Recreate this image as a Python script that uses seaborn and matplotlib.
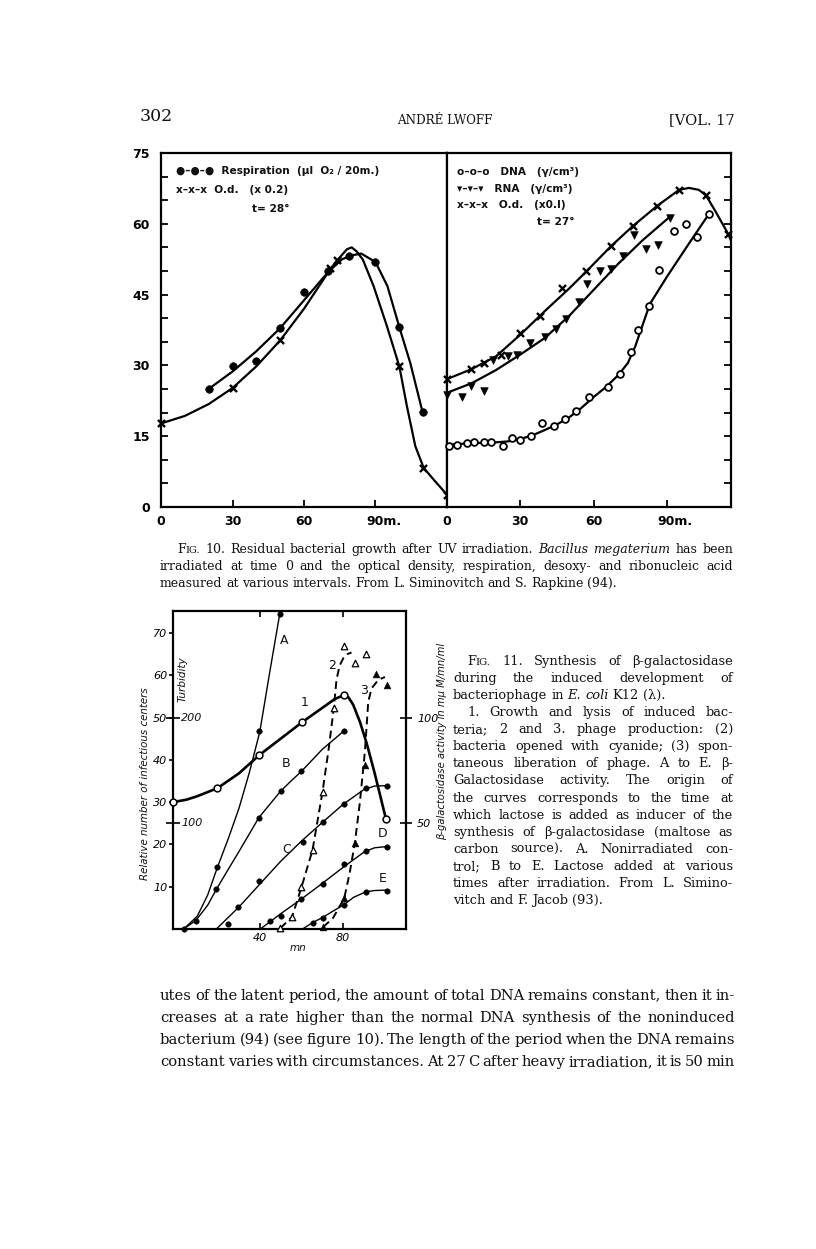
import numpy as np
import pandas as pd
import matplotlib
matplotlib.use('Agg')
import matplotlib.pyplot as plt
import matplotlib.transforms as mtransforms
import seaborn as sns

# Fig. 10 left panel (t = 28 C): respiration and optical density
resp_t = [20, 30, 40, 50, 60, 70, 79, 90, 100, 110]
resp_v = [24.9, 29.9, 31.0, 37.9, 45.5, 50.1, 53.2, 51.9, 38.1, 20.1]
resp_curve_t = [20, 30, 40, 50, 60, 70, 76, 80, 84, 90, 95, 100, 104.6, 109.5]
resp_curve_v = [25, 28.7, 33, 37.9, 43.8, 49.7, 52.5, 53.3, 53.7, 51.9, 46.8, 38.1, 30.5, 20.6]

od28_t = [0, 30, 50, 71, 74, 100, 110, 120]
od28_v = [17.7, 25.2, 35.3, 50.6, 52.3, 29.8, 8.3, 2.6]
od28_curve_t = [0, 10, 20, 30, 40, 50, 60, 70, 74, 78, 80, 82, 84.7, 89.2, 94.8, 100, 103.2, 106.7, 110.2, 114.4, 120]
od28_curve_v = [17.7, 19.3, 21.8, 25.2, 29.8, 35.3, 42, 49.6, 52.3, 54.6, 55, 54.2, 52.4, 46.8, 38.3, 29.8, 21.3, 12.9, 8.3, 5.8, 2.6]

# Fig. 10 right panel (t = 27 C): DNA, RNA, optical density
od27_t = [0, 10, 15, 22, 30, 38, 47, 57, 67, 76, 86, 95, 106, 115]
od27_v = [27.1, 29.2, 30.6, 32.3, 36.9, 40.5, 46.4, 49.9, 55.2, 59.5, 63.8, 67.2, 66.0, 57.9]
od27_curve_t = [0, 10, 20, 30, 40, 50, 57, 67, 76, 86, 95, 99, 103, 106, 110, 115, 117]
od27_curve_v = [27.1, 29.2, 31.9, 36.5, 41.5, 46.3, 49.9, 55.2, 59.5, 63.8, 67.2, 67.6, 67.2, 66, 62.5, 57.9, 55.5]

rna_t = [0, 6, 10, 15, 19, 25, 28.5, 34, 40, 44.5, 48.5, 54, 57.3, 62.7, 67, 72.2, 76.5, 81.4, 86.4, 91.2]
rna_v = [23.8, 23.4, 25.7, 24.6, 31.1, 31.9, 32.1, 34.7, 36.0, 37.7, 39.8, 43.4, 47.2, 49.9, 50.4, 53.1, 57.7, 54.7, 55.6, 61.2]
rna_curve_t = [0, 10, 20, 30, 40, 50, 60, 70, 80, 91.2]
rna_curve_v = [24.2, 26.2, 29, 32.3, 35.8, 40.5, 46, 51.5, 56.5, 61.5]

dna_t = [1, 4, 8, 11, 15, 18, 23, 26.5, 30, 34.2, 38.7, 43.7, 48.4, 52.9, 58.3, 65.8, 70.6, 75.2, 78.3, 82.8, 86.6, 92.8, 97.7, 102.3, 107.2]
dna_v = [13.0, 13.2, 13.6, 13.8, 13.8, 13.8, 12.9, 14.6, 14.1, 15.1, 17.8, 17.1, 18.6, 20.3, 23.3, 25.4, 28.2, 32.8, 37.4, 42.5, 50.3, 58.4, 60.0, 57.2, 62.1]
dna_curve_t = [0, 10, 20, 25, 30, 35, 40, 45, 50, 55, 60, 65, 70, 74, 77, 80, 83, 90, 100, 107.2]
dna_curve_v = [13.2, 13.5, 13.7, 13.9, 14.4, 15.2, 16.3, 17.5, 19, 21, 23.3, 25.4, 27.9, 30.5, 34, 38.5, 43, 48.8, 56.6, 62.1]

# Fig. 11: beta-galactosidase (A-E), turbidity (1), phage (2, 3)
a_t = [3.5, 19.7, 39.6, 49.6]
a_v = [0, 14.6, 46.8, 74.6]
a_curve_t = [3.5, 10, 15, 19.7, 25, 30, 35, 40, 44.8, 49.6]
a_curve_v = [0, 3, 8, 14.6, 21.5, 28.5, 37, 46.6, 60.8, 74.6]
b_t = [9.3, 19.2, 39.5, 50, 60, 80.5]
b_v = [2.0, 9.4, 26.3, 32.6, 37.3, 46.9]
b_curve_t = [3.5, 9.3, 15, 19.2, 25, 30, 35, 39.5, 45, 50, 55, 60, 70, 80.5]
b_curve_v = [0, 2, 5.6, 9.4, 14.2, 18.3, 22.5, 26.3, 29.6, 32.6, 35, 37.3, 42.5, 46.9]
c_t = [24.8, 29.6, 39.5, 60.5, 70.4, 80.5, 90.9, 100.8]
c_v = [1.1, 5.3, 11.4, 20.6, 25.2, 29.5, 33.3, 33.9]
c_curve_t = [19.2, 30, 40, 50, 60, 70, 80, 90, 95, 100.8]
c_curve_v = [0, 5.2, 10.6, 16, 20.8, 25.2, 29.5, 33, 33.8, 33.9]
d_t = [44.8, 50, 60, 70.4, 80.5, 90.9, 100.8]
d_v = [1.9, 3.1, 7.1, 10.6, 15.3, 18.4, 19.5]
d_curve_t = [40.3, 50, 60, 70, 80, 90, 95, 100.8]
d_curve_v = [0, 3.6, 7.1, 10.8, 14.6, 18.2, 19.2, 19.5]
e_t = [65.3, 70.4, 80.5, 90.9, 100.8]
e_v = [1.5, 2.7, 5.7, 8.8, 9.1]
e_curve_t = [60.5, 65.3, 70.4, 75, 80.5, 85, 90.9, 95, 100.8]
e_curve_v = [0, 1.5, 2.8, 4.2, 5.8, 7.5, 8.8, 9.1, 9.2]
one_t = [-1.6, 19.7, 39.7, 60.3, 80.3, 100.5]
one_v = [30, 33.3, 41.1, 48.9, 55.3, 26]
one_curve_t = [-1.6, 5, 10, 19.7, 30, 39.7, 50, 60.3, 70, 76, 80.3, 82.5, 84.8, 88, 91.2, 95, 100.5]
one_curve_v = [30, 30.6, 31.4, 33.3, 36.8, 41.1, 45, 48.9, 52.3, 54.4, 55.3, 54.8, 53, 49, 44, 37, 26]
two_t = [49.9, 55.5, 60, 65.3, 70.1, 75.5, 80.3, 85.6, 90.7]
two_v = [0.2, 2.9, 9.9, 18.7, 32.5, 52.3, 67, 63, 65]
two_curve_t = [49.9, 55.5, 60, 65.3, 70.1, 73, 75.5, 76.8, 78.3, 80, 82, 84]
two_curve_v = [0.2, 2.9, 9.9, 18.7, 32.5, 42.5, 52.3, 59, 62.3, 64, 65, 65.4]
three_t = [70.4, 80.5, 85.6, 90.4, 95.5, 100.8]
three_v = [0.5, 7.3, 20.4, 38.9, 60.3, 57.7]
three_curve_t = [70.4, 75, 80.5, 83, 85.6, 88, 90.4, 92, 93.6, 96.8, 100]
three_curve_v = [0.5, 2.5, 7.3, 13, 20.4, 30, 42, 53.7, 56.9, 58.9, 59.6]

# page text
caption10 = [
    "^FIG. 10. Residual bacterial growth after UV irradiation. _Bacillus _megaterium has been",
    "irradiated at time 0 and the optical density, respiration, desoxy- and ribonucleic acid",
    "measured at various intervals. From L. Siminovitch and S. Rapkine (94).",
]
caption11 = [
    "^FIG. 11. Synthesis of β-galactosidase",
    "during the induced development of",
    "bacteriophage in _E. _coli K12 (λ).",
    "1. Growth and lysis of induced bac-",
    "teria; 2 and 3. phage production: (2)",
    "bacteria opened with cyanide; (3) spon-",
    "taneous liberation of phage. A to E. β-",
    "Galactosidase activity. The origin of",
    "the curves corresponds to the time at",
    "which lactose is added as inducer of the",
    "synthesis of β-galactosidase (maltose as",
    "carbon source). A. Nonirradiated con-",
    "trol; B to E. Lactose added at various",
    "times after irradiation. From L. Simino-",
    "vitch and F. Jacob (93).",
]
body = [
    "utes of the latent period, the amount of total DNA remains constant, then it in-",
    "creases at a rate higher than the normal DNA synthesis of the noninduced",
    "bacterium (94) (see figure 10). The length of the period when the DNA remains",
    "constant varies with circumstances. At 27 C after heavy irradiation, it is 50 min",
]

sns.set_theme(style='ticks', rc={'axes.edgecolor': 'black', 'xtick.color': 'black',
                                  'ytick.color': 'black', 'text.color': '#111111'})
plt.rcParams['font.family'] = ['DejaVu Sans']

W, H = 816, 1249
fig = plt.figure(figsize=(W / 100, H / 100), dpi=100, facecolor='white')
INK = '#111111'
SERIF = 'DejaVu Serif'


def box(x0, y0, x1, y1):
    return fig.add_axes([x0 / W, 1 - y1 / H, (x1 - x0) / W, (y1 - y0) / H])


def put(x, y, s, **kw):
    kw.setdefault('va', 'baseline')
    return fig.text(x / W, 1 - y / H, s, color=INK, **kw)


def justify(line, base_y, x0, x1, size, last=False):
    # place word by word so the line fills the column like the printed page
    words = []
    for w in line.split():
        if w.startswith('^'):
            parts = [(w[1], size, 'normal'), (w[2:].upper(), size * 0.78, 'normal')]
        elif w.startswith('_'):
            parts = [(w[1:], size, 'italic')]
        else:
            parts = [(w, size, 'normal')]
        words.append([put(0, base_y, s, fontsize=fs, style=st, family=SERIF)
                      for s, fs, st in parts])
    r = fig.canvas.get_renderer()
    widths = [[t.get_window_extent(r).width for t in wd] for wd in words]
    total = sum(sum(ws) for ws in widths)
    gap = size * 100 / 72 * 0.3
    if not last and len(words) > 1:
        gap = (x1 - x0 - total) / (len(words) - 1)
    x = x0
    for wd, ws in zip(words, widths):
        for t, w in zip(wd, ws):
            t.set_x(x / W)
            x += w
        x += gap


# ---------------- header ----------------
put(140, 121, '302', fontsize=12.5, family=SERIF)
put(445, 124, 'ANDRÉ LWOFF', fontsize=8.6, family=SERIF, ha='center')
put(735, 124, '[VOL. 17', fontsize=10.5, family=SERIF, ha='right')

# ---------------- Fig. 10 ----------------
ax1 = box(161, 153, 447, 507)
ax2 = box(447, 153, 731, 507)
for ax in (ax1, ax2):
    ax.set_ylim(0, 75)
    ax.set_facecolor('white')
    for sp in ax.spines.values():
        sp.set_visible(True)
        sp.set_linewidth(1.6)
        sp.set_color('black')
ax1.set_xlim(0, 120)
ax2.set_xlim(0, 116.2)

line_kw = dict(color='black', lw=1.6, estimator=None, sort=False, legend=False)
sns.lineplot(x=resp_curve_t, y=resp_curve_v, ax=ax1, **line_kw)
sns.lineplot(x=od28_curve_t, y=od28_curve_v, ax=ax1, **line_kw)
sns.scatterplot(x=resp_t, y=resp_v, ax=ax1, marker='o', s=30, color='black',
                edgecolor='black', clip_on=False, zorder=4)
sns.scatterplot(x=od28_t, y=od28_v, ax=ax1, marker='x', s=26, color='black',
                linewidth=1.7, clip_on=False, zorder=4)

sns.lineplot(x=od27_curve_t, y=od27_curve_v, ax=ax2, **line_kw)
sns.lineplot(x=rna_curve_t, y=rna_curve_v, ax=ax2, **line_kw)
sns.lineplot(x=dna_curve_t, y=dna_curve_v, ax=ax2, **line_kw)
sns.scatterplot(x=od27_t, y=od27_v, ax=ax2, marker='x', s=26, color='black',
                linewidth=1.7, clip_on=False, zorder=4)
sns.scatterplot(x=rna_t, y=rna_v, ax=ax2, marker='v', s=30, color='black',
                edgecolor='black', clip_on=False, zorder=4)
sns.scatterplot(x=dna_t, y=dna_v, ax=ax2, marker='o', s=24, color='white',
                edgecolor='black', linewidth=1.3, clip_on=False, zorder=4)

ax1.set_yticks(range(0, 76, 15))
ax1.set_yticks(range(0, 76, 5), minor=True)
ax1.tick_params(axis='y', which='both', direction='in', length=5, width=1.3,
                left=True, right=False, labelsize=9, pad=8)
ax2.set_yticks(range(0, 76, 5))
ax2.tick_params(axis='y', which='both', direction='in', length=5, width=1.3,
                left=False, right=True, labelleft=False, labelright=False)
for ax in (ax1, ax2):
    ax.set_xticks([0, 30, 60, 90])
    ax.set_xticklabels(['0', '30', '60', '90m.'])
    ax.tick_params(axis='x', direction='in', length=5, width=1.3, labelsize=9, pad=6)
    ax.set_xlabel('')
    ax.set_ylabel('')
    shift = mtransforms.ScaledTranslation(0.08, 0, fig.dpi_scale_trans)
    for lab in ax.get_xticklabels():
        lab.set_fontweight('bold')
        if lab.get_text().endswith('m.'):
            lab.set_transform(lab.get_transform() + shift)
for lab in ax1.get_yticklabels():
    lab.set_fontweight('bold')

leg = dict(fontsize=7.6, fontweight='bold', family='DejaVu Sans')
put(176, 174, '●–●–●  Respiration  (µl  O₂ / 20m.)', **leg)
put(176, 193, 'x–x–x  O.d.   (x 0.2)', **leg)
put(252, 212, 't= 28°', **leg)
put(457, 175, 'o–o–o   DNA   (γ/cm³)', **leg)
put(457, 192, '▾–▾–▾   RNA   (γ/cm³)', **leg)
put(457, 208, 'x–x–x   O.d.   (x0.I)', **leg)
put(537, 225, 't= 27°', **leg)

# Fig. 10 caption
for i, line in enumerate(caption10):
    x0 = 177 if i == 0 else 160
    justify(line, 553 + i * 17, x0, 733, 9.0, last=(i == len(caption10) - 1))

# ---------------- Fig. 11 ----------------
ax3 = box(173, 611, 406, 929)
ax3.set_xlim(-1.6, 110.1)
ax3.set_ylim(0, 75.2)
ax3.set_facecolor('white')
for sp in ax3.spines.values():
    sp.set_visible(True)
    sp.set_linewidth(1.6)
    sp.set_color('black')

thin = dict(color='black', lw=1.0, estimator=None, sort=False, legend=False)
for ct, cv in [(a_curve_t, a_curve_v), (b_curve_t, b_curve_v), (c_curve_t, c_curve_v),
               (d_curve_t, d_curve_v), (e_curve_t, e_curve_v)]:
    sns.lineplot(x=ct, y=cv, ax=ax3, **thin)
sns.lineplot(x=one_curve_t, y=one_curve_v, ax=ax3, color='black', lw=1.9,
             estimator=None, sort=False, legend=False)
for ct, cv in [(two_curve_t, two_curve_v), (three_curve_t, three_curve_v)]:
    sns.lineplot(x=ct, y=cv, ax=ax3, color='black', lw=1.4, linestyle=(0, (4, 2.4)),
                 estimator=None, sort=False, legend=False)

dots_t = a_t + b_t + c_t + d_t + e_t
dots_v = a_v + b_v + c_v + d_v + e_v
sns.scatterplot(x=dots_t, y=dots_v, ax=ax3, marker='o', s=16, color='black',
                edgecolor='black', clip_on=False, zorder=4)
sns.scatterplot(x=one_t, y=one_v, ax=ax3, marker='o', s=24, color='white',
                edgecolor='black', linewidth=1.1, clip_on=False, zorder=5)
sns.scatterplot(x=two_t, y=two_v, ax=ax3, marker='^', s=22, color='white',
                edgecolor='black', linewidth=0.9, clip_on=False, zorder=5)
sns.scatterplot(x=three_t, y=three_v, ax=ax3, marker='^', s=24, color='black',
                edgecolor='black', clip_on=False, zorder=5)

ital = dict(style='italic', family='DejaVu Sans')
ax3.set_yticks(range(10, 71, 10))
ax3.set_yticklabels([str(v) for v in range(10, 71, 10)], **ital)
ax3.tick_params(axis='y', direction='out', length=3, width=1.2, pad=1, labelsize=8,
                left=True, right=False)
ax3.set_xticks([40, 80])
ax3.set_xticklabels(['40', '80'], **ital)
ax3.tick_params(axis='x', direction='in', length=4, width=1.2, pad=3, labelsize=8,
                top=True, bottom=True)
ax3.set_xlabel('')
ax3.set_ylabel('')

turb = ax3.secondary_yaxis('left', functions=(lambda v: v * 4, lambda t: t / 4))
turb.set_yticks([100, 200])
turb.tick_params(direction='inout', length=10, width=1.2, labelleft=False)
yt = mtransforms.blended_transform_factory(ax3.transAxes, ax3.transData)
for tv in [100, 200]:
    ax3.text(0.035, tv / 4, str(tv), transform=yt, ha='left', va='center',
             fontsize=8, color=INK, **ital)

gal = ax3.secondary_yaxis('right', functions=(lambda v: v * 2, lambda b: b / 2))
gal.set_yticks([50, 100])
gal.set_yticklabels(['50', '100'], **ital)
gal.tick_params(direction='inout', length=8, width=1.2, pad=4, labelsize=8)

lab_kw = dict(fontsize=9, color=INK, family='DejaVu Sans', ha='center', va='center')
for s, tx, vy in [('A', 51.5, 68.3), ('B', 52.5, 39.2), ('C', 52.8, 18.8), ('D', 98.9, 22.5),
                  ('E', 98.9, 12.0), ('1', 61.5, 53.5), ('2', 74.7, 62.4), ('3', 89.8, 56.5)]:
    ax3.text(tx, vy, s, **lab_kw)

put(145, 784, 'Relative number of infectious centers', fontsize=7.4, rotation=90,
    ha='center', va='center', **ital)
put(183, 679, 'Turbidity', fontsize=7.6, rotation=90, ha='center', va='center', **ital)
put(442, 741, 'β-galactosidase activity in mμ M/mn/ml', fontsize=7.2, rotation=90,
    ha='center', va='center', **ital)
put(298, 948, 'mn', fontsize=7.5, ha='center', va='center', **ital)

# Fig. 11 caption
for i, line in enumerate(caption11):
    x0 = 467 if i in (0, 3) else 453
    justify(line, 665 + i * 17.07, x0, 733, 9.4, last=(i in (2, len(caption11) - 1)))

# body text
for i, line in enumerate(body):
    justify(line, 1000 + i * 22, 160, 735, 10.6)

fig.savefig('out.png', dpi=100, facecolor='white')
